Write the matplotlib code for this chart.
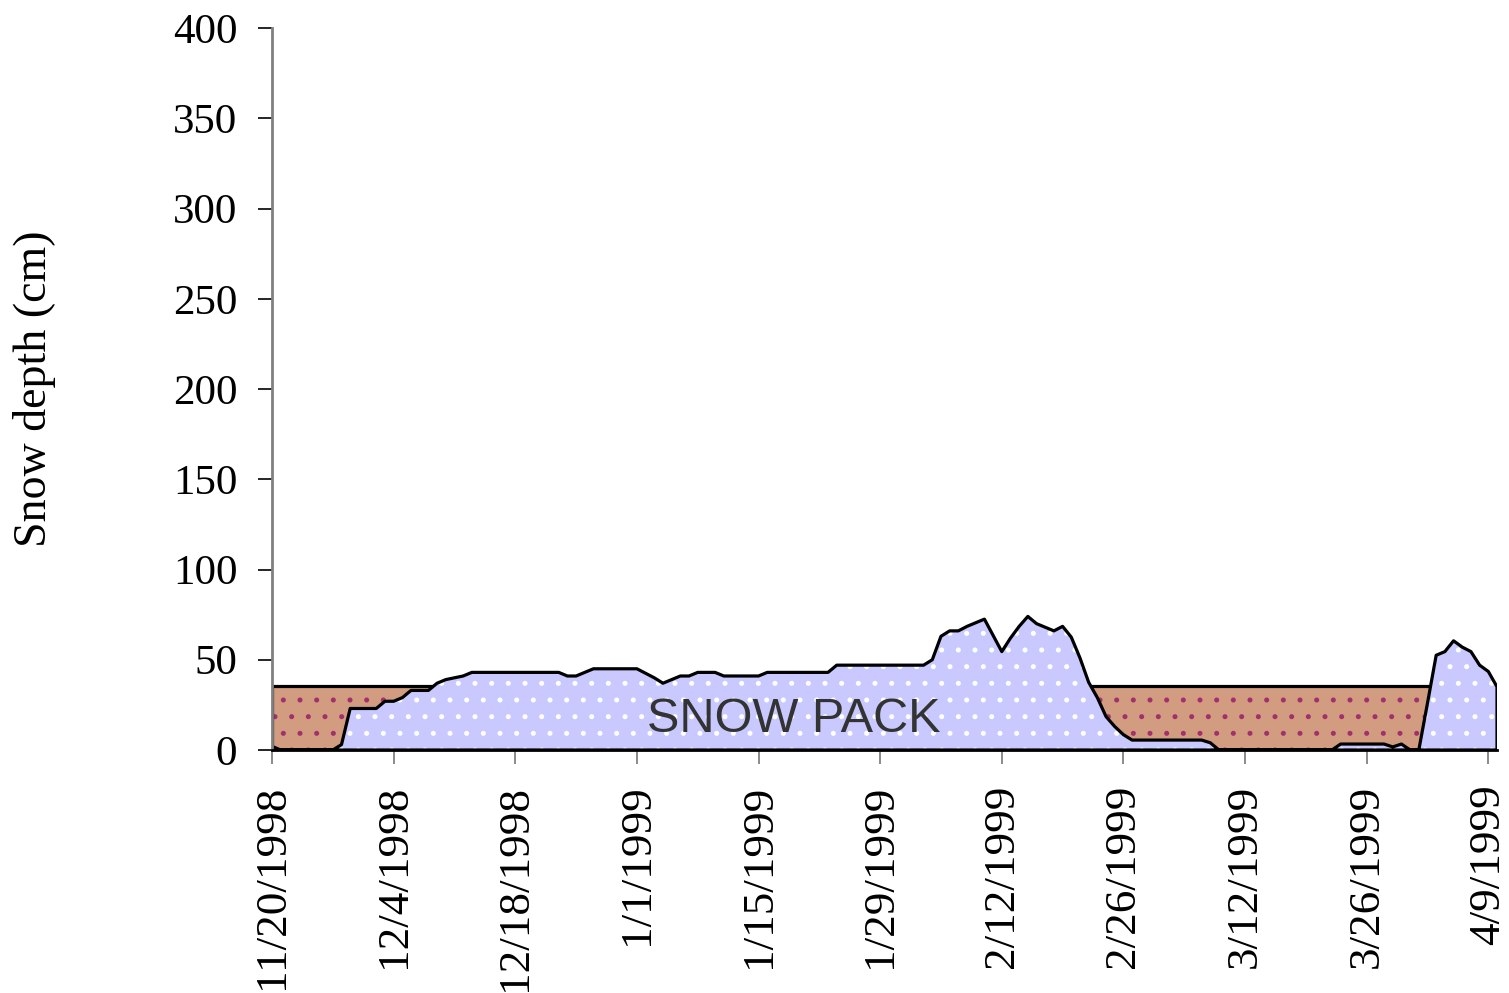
import numpy as np
import pandas as pd
import matplotlib
matplotlib.use("Agg")
import matplotlib.pyplot as plt

# daily snow depth (cm), starting 11/20/1998
snow = [2, 0, 0, 0, 0, 0, 0, 0, 3, 23,
        23, 23, 23, 27, 27, 29, 33, 33, 33, 37,
        39, 40, 41, 43, 43, 43, 43, 43, 43, 43,
        43, 43, 43, 43, 41, 41, 43, 45, 45, 45,
        45, 45, 45, 42.5, 40, 37, 39, 41, 41, 43,
        43, 43, 41, 41, 41, 41, 41, 43, 43, 43,
        43, 43, 43, 43, 43, 47, 47, 47, 47, 47,
        47, 47, 47, 47, 47, 47, 50, 63, 66, 66,
        68.5, 70.5, 72.5, 63.5, 54.5, 62, 68.5, 74, 70, 68,
        66, 68.5, 62.5, 51, 37.5, 29, 18.5, 13, 8.5, 5.5,
        5.5, 5.5, 5.5, 5.5, 5.5, 5.5, 5.5, 5.5, 4, 0,
        0, 0, 0, 0, 0, 0, 0, 0, 0, 0,
        0, 0, 0, 3.3, 3.3, 3.3, 3.3, 3.3, 3.3, 1.7,
        3.3, 0, 0, 26, 52.5, 54.5, 60.5, 57, 54.5, 47,
        43.5, 35]
ground_level = 35.5  # the brown band behind the snow pack

dates = pd.date_range("1998-11-20", periods=len(snow), freq="D")
ground = np.full(len(snow), ground_level)

tick_labels = ["11/20/1998", "12/4/1998", "12/18/1998", "1/1/1999",
               "1/15/1999", "1/29/1999", "2/12/1999", "2/26/1999",
               "3/12/1999", "3/26/1999", "4/9/1999"]
y_ticks = [0, 50, 100, 150, 200, 250, 300, 350, 400]

serif = "Liberation Serif"
plt.rcParams["hatch.linewidth"] = 1.2

fig = plt.figure(figsize=(15.09, 9.93), dpi=100)
ax = fig.add_axes([272 / 1509, 1 - 750 / 993, (1497 - 272) / 1509, (750 - 28) / 993])

# brown band, then the snow on top of it
ax.fill_between(dates, 0, ground, facecolor="#d29c80", edgecolor="#a3306c",
                hatch=".", linewidth=0)
ax.fill_between(dates, 0, ground, facecolor="none", edgecolor="black", linewidth=2.3)
ax.fill_between(dates, 0, snow, facecolor="#c9c9ff", edgecolor="white",
                hatch=".", linewidth=0)
ax.fill_between(dates, 0, snow, facecolor="none", edgecolor="black", linewidth=2.3)

ax.text(dates[60], 17, "SNOW PACK", family="Liberation Sans", fontsize=35,
        color="#333333", ha="center", va="center")

ax.set_xlim(dates[0], dates[-1])
ax.set_ylim(0, 400)
ax.set_xticks(dates[::14])
ax.set_xticklabels(tick_labels, rotation=90, family=serif, fontsize=32.5)
ax.set_yticks(y_ticks)
ax.set_yticklabels([str(v) for v in y_ticks], family=serif, fontsize=31)

ax.tick_params(axis="x", length=10, width=1.2, color="#777777", pad=15)
ax.tick_params(axis="y", length=10, width=1.2, color="black", pad=15)

for s in ["top", "right"]:
    ax.spines[s].set_visible(False)
ax.spines["left"].set_color("#808080")
ax.spines["left"].set_linewidth(2)
ax.spines["bottom"].set_color("black")
ax.spines["bottom"].set_linewidth(2)

fig.text(35 / 1509, 1 - 389 / 993, "Snow depth (cm)", rotation=90,
         family=serif, fontsize=33, ha="center", va="center")

fig.savefig("out.png", dpi=100)
